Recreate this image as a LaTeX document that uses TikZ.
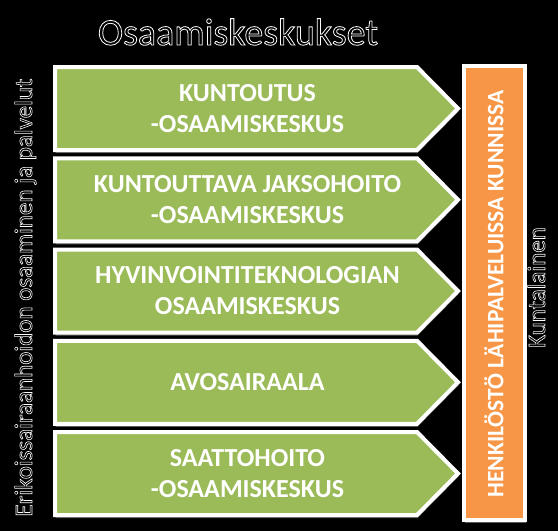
\documentclass[tikz,border=0pt]{standalone}
\usepackage{fontspec}
\setmainfont{Carlito}
\usetikzlibrary{shadows}
\definecolor{centregreen}{HTML}{9BBB59}
\definecolor{stafforange}{HTML}{F79646}
\newcommand{\outlinetext}[2][0.8]{\special{pdf:literal direct 2 Tr #1 w 1 1 1 RG}#2\special{pdf:literal direct 0 Tr 0 0 0 RG}}
\tikzset{
  centre/.style={fill=centregreen, draw=white, line width=4pt, line join=miter,
    drop shadow={shadow xshift=0.6pt, shadow yshift=-3pt, fill=gray, opacity=0.7}},
  centretext/.style={text=white, inner sep=0pt, align=center,
    font=\bfseries\fontsize{26}{31}\selectfont},
  staff/.style={fill=stafforange, draw=white, line width=4pt,
    drop shadow={shadow xshift=0.6pt, shadow yshift=-3pt, fill=gray, opacity=0.7}},
  stafftext/.style={text=white, inner sep=0pt, font=\bfseries\fontsize{23.5}{28}\selectfont},
  rim/.style={text=black, inner sep=0pt},
  sidetext/.style={font=\fontsize{25}{29}\selectfont, rotate=90, anchor=base},
  titletext/.style={font=\fontsize{38}{42}\selectfont, anchor=base}
}
\begin{document}
\begin{tikzpicture}[x=1pt,y=-1pt]
  % Background
  \fill[black] (0,0) rectangle (558,531);
  \useasboundingbox (0,0) rectangle (558,531);

  % Title
  \node[rim,titletext] (title) at (238,45) {\outlinetext{Osaamiskeskukset}};

  % Centres
  \foreach \i/\c/\txt in {1/108.5/{KUNTOUTUS\\-OSAAMISKESKUS},
                          2/199.75/{KUNTOUTTAVA JAKSOHOITO\\-OSAAMISKESKUS},
                          3/291/{HYVINVOINTITEKNOLOGIAN\\OSAAMISKESKUS},
                          4/382.25/{AVOSAIRAALA},
                          5/473.5/{SAATTOHOITO\\-OSAAMISKESKUS}}
  {
    \draw[centre] (55,\c-41.5) -- (417,\c-41.5) -- (458,\c) -- (417,\c+41.5) -- (55,\c+41.5) -- cycle;
    \node[centretext] (centre\i) at (247.5,\c) {\txt};
  }

  % Staff
  \draw[staff] (464,66) rectangle (525,520);
  \node[stafftext,rotate=90] (staff) at (494,294) {HENKILÖSTÖ LÄHIPALVELUISSA KUNNISSA};

  % Side labels
  \node[rim,sidetext] (expert) at (32,297.5) {\outlinetext[0.6]{Erikoissairaanhoidon osaaminen ja palvelut}};
  \node[rim,sidetext] (citizen) at (545,287.5) {\outlinetext[0.6]{Kuntalainen}};
\end{tikzpicture}
\end{document}
